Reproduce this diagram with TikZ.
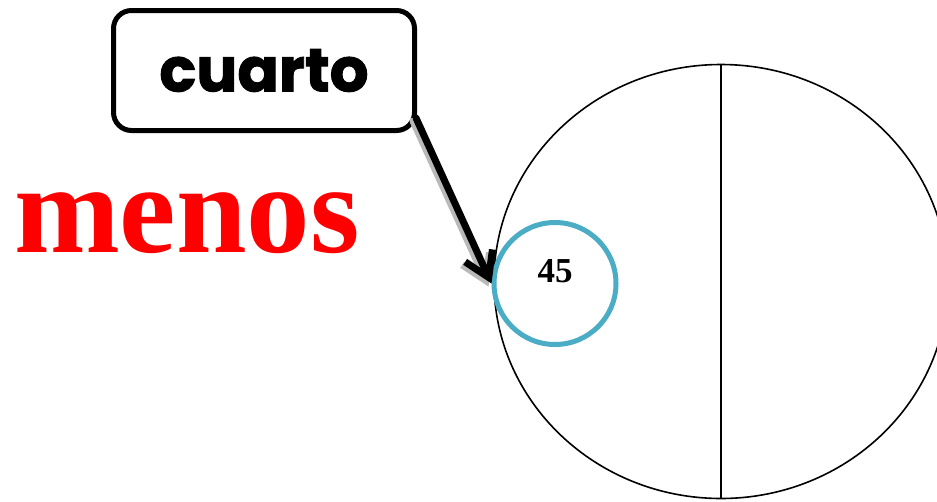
\documentclass[tikz,border=0pt]{standalone}
\usepackage{fontspec}
\setmainfont{Liberation Serif}
\newfontfamily\labelfont{Poppins}[BoldFeatures={FakeBold=1.6}]
\usetikzlibrary{arrows.meta}
\usetikzlibrary{shapes.geometric}
\definecolor{ringblue}{RGB}{75,172,198}

\begin{document}
\begin{tikzpicture}[
    x=1pt, y=-1pt,
    labelbox/.style={draw, line width=5pt, rounded corners=18pt, minimum width=301pt, minimum height=120pt, inner sep=0pt, font=\labelfont\bfseries\fontsize{61}{61}\selectfont},
    plate/.style={draw, ellipse, line width=1.6pt, minimum width=454pt, minimum height=434pt, inner sep=0pt, outer sep=0pt},
    ring/.style={draw=ringblue, circle, line width=5pt, minimum size=122pt, inner sep=0pt},
    arrow/.style={-{Straight Barb[length=24pt, width=30pt]}, line width=7pt, line cap=round},
    arrowshadow/.style={arrow, gray!55, transform canvas={shift={(-3pt,-3pt)}}}
]
    \useasboundingbox (0,0) rectangle (937,501);

    % Whole split in two halves
    \node[plate] (whole) at (721,281.5) {};
    \draw[line width=1.6pt] (whole.north) -- (whole.south);

    % Ring with its value
    \node[ring] (ring) at (555,283.5) {};
    \node[font=\bfseries\fontsize{35}{35}\selectfont] (num) at ([yshift=12pt]ring.center) {45};

    % Labels
    \node[labelbox] (box) at (264,70.5) {cuarto};
    \node[anchor=base west, text=red, inner sep=0pt, font=\bfseries\fontsize{127}{127}\selectfont] (word) at (14,252) {menos};

    % Pointer from label to ring
    \draw[arrowshadow] ([xshift=-1pt, yshift=15pt]box.south east) -- (ring.west);
    \draw[arrow] ([xshift=-1pt, yshift=15pt]box.south east) -- (ring.west);
\end{tikzpicture}
\end{document}
